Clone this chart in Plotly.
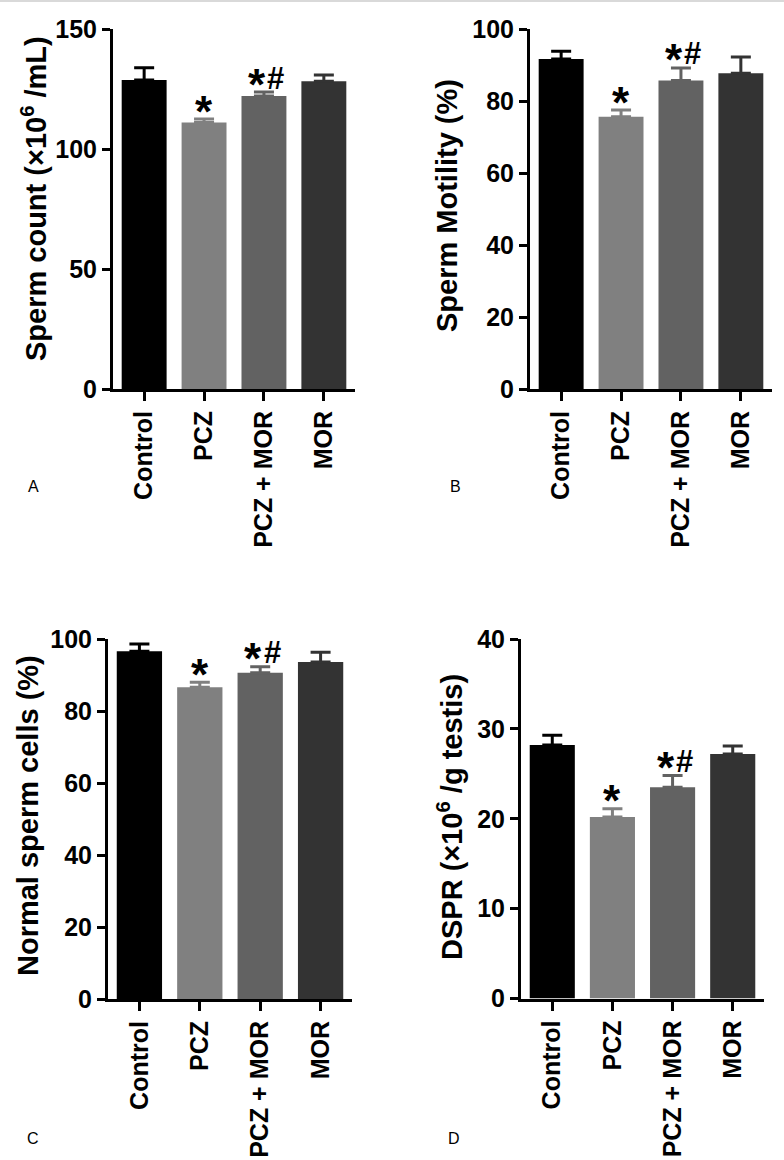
import plotly.graph_objects as go

groups = ["Control", "PCZ", "PCZ + MOR", "MOR"]
colors = ["#000000", "#808080", "#626262", "#333333"]

count_mean = [128.7, 111.0, 122.1, 128.2]
count_err = [5.2, 1.5, 1.6, 2.6]
motility_mean = [91.7, 75.6, 85.7, 87.7]
motility_err = [2.1, 1.9, 3.5, 4.5]
normal_mean = [96.6, 86.6, 90.6, 93.6]
normal_err = [2.0, 1.4, 1.7, 2.7]
dspr_mean = [28.2, 20.2, 23.5, 27.2]
dspr_err = [1.1, 0.9, 1.3, 0.9]

star_marks = [False, True, True, False]
hash_marks = [False, False, True, False]

W, H = 784, 1160
FONT = "Liberation Sans, Arial, sans-serif"

panels = [
    dict(mean=count_mean, err=count_err, x0=113, x1=355, y0=29, y1=389, rng=150, dtick=50,
         title="Sperm count (×10<sup>6</sup> /mL)", tx=34, ty=199, letter="A", lx=33, ly=486),
    dict(mean=motility_mean, err=motility_err, x0=530, x1=772, y0=29, y1=389, rng=100, dtick=20,
         title="Sperm Motility (%)", tx=447, ty=206, letter="B", lx=455, ly=486),
    dict(mean=normal_mean, err=normal_err, x0=108, x1=352, y0=639, y1=999, rng=100, dtick=20,
         title="Normal sperm cells (%)", tx=28, ty=816, letter="C", lx=33, ly=1138),
    dict(mean=dspr_mean, err=dspr_err, x0=521, x1=764, y0=639, y1=998.5, rng=40, dtick=10,
         title="DSPR (×10<sup>6</sup> /g testis)", tx=450, ty=817, letter="D", lx=454, ly=1138),
]

fig = go.Figure()
layout = dict(
    template="none",
    width=W, height=H, margin=dict(l=0, r=0, t=0, b=0, pad=0, autoexpand=False),
    paper_bgcolor="white", plot_bgcolor="white", showlegend=False,
    font=dict(family=FONT, color="black"),
    bargap=0.25,
)
annotations = []
shapes = [dict(type="line", xref="paper", yref="paper", x0=0, x1=1,
               y0=1 - 1 / H, y1=1 - 1 / H, line=dict(color="#d9d9d9", width=2))]

for i, p in enumerate(panels):
    k = "" if i == 0 else str(i + 1)
    xa, ya = "x" + k, "y" + k
    for j, g in enumerate(groups):
        fig.add_trace(go.Bar(
            x=[g], y=[p["mean"][j]], xaxis=xa, yaxis=ya, width=0.75,
            marker=dict(color=colors[j], line=dict(width=0)),
            error_y=dict(type="data", symmetric=False, array=[p["err"][j]], arrayminus=[0],
                         color=colors[j], thickness=3, width=10),
        ))
        top = p["mean"][j] + p["err"][j]
        if star_marks[j]:
            annotations.append(dict(
                x=g, y=top, xref=xa, yref=ya, text="<b>*</b>", showarrow=False,
                xanchor="center", yanchor="middle",
                xshift=-7 if hash_marks[j] else 0, yshift=8,
                font=dict(size=44, family=FONT, color="black")))
        if hash_marks[j]:
            annotations.append(dict(
                x=g, y=top, xref=xa, yref=ya, text="<b>#</b>", showarrow=False,
                xanchor="center", yanchor="middle", xshift=12, yshift=14,
                font=dict(size=31, family=FONT, color="black")))
    layout["xaxis" + k] = dict(
        domain=[p["x0"] / W, p["x1"] / W], anchor=ya, range=[-0.52, 3.52],
        type="category", showline=True, linecolor="black", linewidth=3,
        ticks="outside", ticklen=9, tickwidth=3, tickcolor="black", tickangle=-90,
        tickfont=dict(size=25, family=FONT, color="black", weight="bold"),
        showgrid=False, zeroline=False, fixedrange=True, automargin=False)
    layout["yaxis" + k] = dict(
        domain=[1 - p["y1"] / H, 1 - p["y0"] / H], anchor=xa, range=[0, p["rng"]],
        dtick=p["dtick"], showline=True, linecolor="black", linewidth=3,
        ticks="outside", ticklen=8, tickwidth=3, tickcolor="black",
        tickfont=dict(size=25, family=FONT, color="black", weight="bold"),
        showgrid=False, zeroline=False, fixedrange=True, automargin=False)
    annotations.append(dict(
        x=p["tx"] / W, y=1 - p["ty"] / H, xref="paper", yref="paper",
        text="<b>" + p["title"] + "</b>", textangle=-90, showarrow=False,
        xanchor="center", yanchor="middle", font=dict(size=29, family=FONT, color="black")))
    annotations.append(dict(
        x=p["lx"] / W, y=1 - p["ly"] / H, xref="paper", yref="paper",
        text=p["letter"], showarrow=False, xanchor="center", yanchor="middle",
        font=dict(size=16, family=FONT, color="black")))

layout["annotations"] = annotations
layout["shapes"] = shapes
fig.update_layout(**layout)
fig.write_html("out.html", config={"displayModeBar": False},
               post_script="document.body.style.margin='0px';document.body.style.overflow='hidden';")
